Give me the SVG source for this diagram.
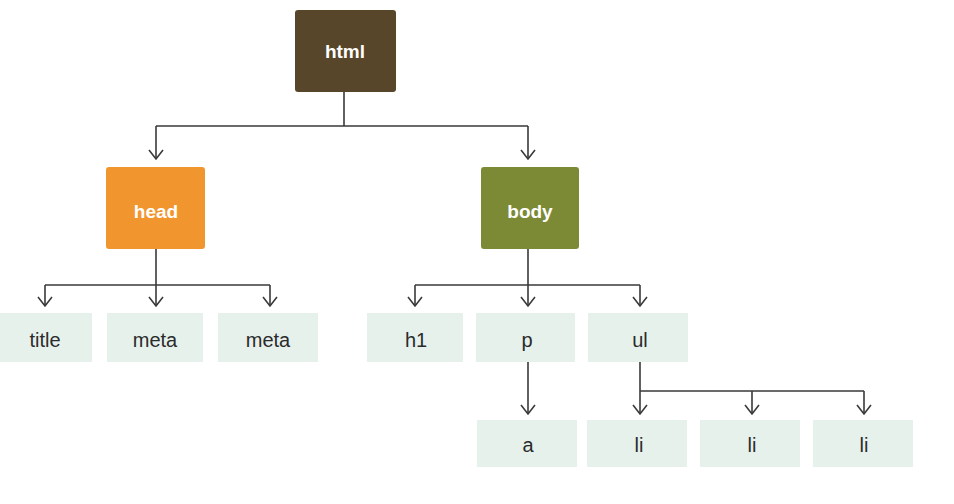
<svg xmlns="http://www.w3.org/2000/svg" width="954" height="504" viewBox="0 0 954 504">
<defs>
<style>
.conn{fill:none;stroke:#3a3a3a;stroke-width:1.6}
.head{fill:none;stroke:#3a3a3a;stroke-width:1.6;stroke-linejoin:miter}
.leaf rect{fill:#e7f1ec}
.leaf text{fill:#2b2b2b;font-family:"Liberation Sans",Arial,sans-serif;font-size:20px;text-anchor:middle}
.top text{fill:#ffffff;font-family:"Liberation Sans",Arial,sans-serif;font-size:19px;text-anchor:middle;font-weight:bold}
</style>
</defs>
<rect width="954" height="504" fill="#ffffff"/>
<g id="connectors">
<path class="conn" d="M344 92 V126 M156 126 H528 M156 126 V159 M528 126 V159"/>
<path class="conn" d="M156 249 V285 M45 285 H270 M45 285 V306 M156 285 V306 M270 285 V306"/>
<path class="conn" d="M528 249 V285 M415 285 H640 M415 285 V306 M528 285 V306 M640 285 V306"/>
<path class="conn" d="M528 362 V414 M640 362 V414 M640 391 H864 M752 391 V414 M864 391 V414"/>
<path class="head" d="M149 150 L156 159 L163 150 M521 150 L528 159 L535 150"/>
<path class="head" d="M38 297 L45 306 L52 297 M149 297 L156 306 L163 297 M263 297 L270 306 L277 297"/>
<path class="head" d="M408 297 L415 306 L422 297 M521 297 L528 306 L535 297 M633 297 L640 306 L647 297"/>
<path class="head" d="M521 405 L528 414 L535 405 M633 405 L640 414 L647 405 M745 405 L752 414 L759 405 M857 405 L864 414 L871 405"/>
</g>
<g id="html" class="top"><rect x="295" y="10" width="101" height="82" rx="3" fill="#574629"/><text x="345" y="58">html</text></g>
<g id="head" class="top"><rect x="106" y="167" width="99" height="82" rx="3" fill="#f1962f"/><text x="156" y="218">head</text></g>
<g id="body" class="top"><rect x="481" y="167" width="98" height="82" rx="3" fill="#7c8a36"/><text x="530" y="218">body</text></g>
<g id="title" class="leaf"><rect x="0" y="313" width="92" height="49"/><text x="45" y="347">title</text></g>
<g id="meta1" class="leaf"><rect x="107" y="313" width="96" height="49"/><text x="155" y="347">meta</text></g>
<g id="meta2" class="leaf"><rect x="218" y="313" width="100" height="49"/><text x="268" y="347">meta</text></g>
<g id="h1" class="leaf"><rect x="367" y="313" width="96" height="49"/><text x="416" y="347">h1</text></g>
<g id="p" class="leaf"><rect x="476" y="313" width="99" height="49"/><text x="527" y="347">p</text></g>
<g id="ul" class="leaf"><rect x="588" y="313" width="100" height="49"/><text x="640" y="347">ul</text></g>
<g id="a" class="leaf"><rect x="477" y="420" width="100" height="47"/><text x="528" y="452">a</text></g>
<g id="li1" class="leaf"><rect x="587" y="420" width="100" height="47"/><text x="639" y="452">li</text></g>
<g id="li2" class="leaf"><rect x="700" y="420" width="100" height="47"/><text x="752" y="452">li</text></g>
<g id="li3" class="leaf"><rect x="813" y="420" width="100" height="47"/><text x="864" y="452">li</text></g>
</svg>
